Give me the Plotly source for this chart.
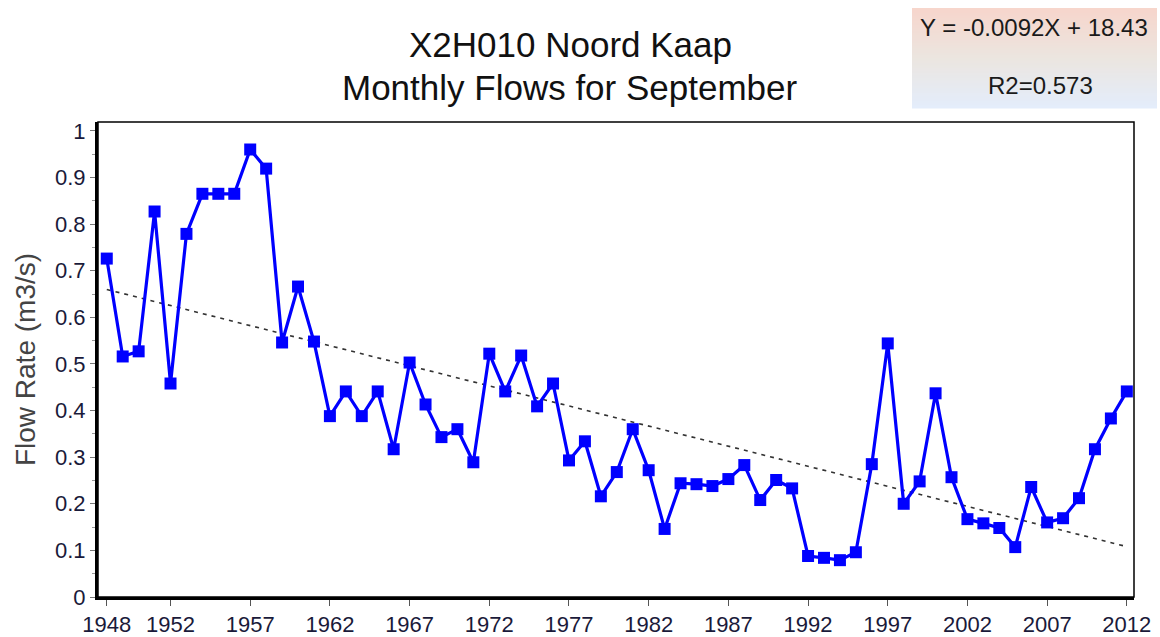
import numpy as np
import plotly.graph_objects as go

years = list(range(1948, 2013))
flows = [0.726, 0.516, 0.527, 0.827, 0.458, 0.779, 0.865, 0.865, 0.865, 0.960,
         0.919, 0.546, 0.666, 0.548, 0.388, 0.441, 0.388, 0.441, 0.317, 0.503,
         0.413, 0.343, 0.360, 0.289, 0.522, 0.441, 0.518, 0.409, 0.458, 0.293,
         0.334, 0.216, 0.268, 0.360, 0.272, 0.146, 0.244, 0.242, 0.238, 0.253,
         0.283, 0.208, 0.251, 0.233, 0.088, 0.084, 0.079, 0.096, 0.285, 0.544,
         0.200, 0.248, 0.437, 0.257, 0.167, 0.158, 0.148, 0.107, 0.236, 0.160,
         0.169, 0.212, 0.317, 0.383, 0.441]
xtick_vals = [1948, 1952, 1957, 1962, 1967, 1972, 1977, 1982, 1987, 1992, 1997, 2002, 2007, 2012]
xtick_text = [str(v) for v in xtick_vals]
ytick_vals = [0, 0.1, 0.2, 0.3, 0.4, 0.5, 0.6, 0.7, 0.8, 0.9, 1]
ytick_text = ["0", "0.1", "0.2", "0.3", "0.4", "0.5", "0.6", "0.7", "0.8", "0.9", "1"]
title_lines = ["X2H010 Noord Kaap", "Monthly Flows for September"]
equation_text = "Y = -0.0092X + 18.43"
r2_text = "R2=0.573"

# linear trend fitted to the data
coef = np.polyfit(years, flows, 1)
trend = list(np.polyval(coef, years))

W, H = 1160, 637
L, R, T, B = 98, 1134, 122, 597
FONT = "Liberation Sans, Arial, sans-serif"


def px(xp):
    return (xp - L) / (R - L)


def py(yp):
    return (B - yp) / (B - T)


fig = go.Figure()
fig.add_trace(go.Scatter(x=years, y=trend, mode="lines",
                         line=dict(color="#333333", width=1.6, dash="4px,5px"),
                         hoverinfo="skip", showlegend=False))
fig.add_trace(go.Scatter(x=years, y=flows, mode="lines+markers",
                         line=dict(color="#0000FF", width=3.2),
                         marker=dict(symbol="square", size=12, color="#0000FF"),
                         showlegend=False))

# gradient box behind the equation text
top_c = np.array([247, 214, 204])
mid_c = np.array([236, 230, 224])
bot_c = np.array([228, 237, 251])
x0b, x1b, y0b, y1b = 912, 1157, 8, 108
n = 40
shapes = []
for i in range(n):
    t = i / (n - 1)
    if t < 0.5:
        c = top_c + (mid_c - top_c) * (t / 0.5)
    else:
        c = mid_c + (bot_c - mid_c) * ((t - 0.5) / 0.5)
    ya = y0b + (y1b - y0b) * i / n
    yb = y0b + (y1b - y0b) * (i + 1) / n + 0.5
    shapes.append(dict(type="rect", xref="paper", yref="paper",
                       x0=px(x0b), x1=px(x1b), y0=py(yb), y1=py(ya),
                       line=dict(width=0),
                       fillcolor="rgb(%d,%d,%d)" % tuple(int(v) for v in c),
                       layer="below"))
# thin frame on top/right
shapes.append(dict(type="rect", xref="paper", yref="paper", x0=0, x1=1, y0=0, y1=1,
                   line=dict(color="black", width=1.5), layer="above"))

annotations = [
    dict(text=title_lines[0], xref="paper", yref="paper", x=px(570), y=py(45),
         showarrow=False, font=dict(family=FONT, size=35, color="#111111"),
         xanchor="center", yanchor="middle"),
    dict(text=title_lines[1], xref="paper", yref="paper", x=px(570), y=py(87),
         showarrow=False, font=dict(family=FONT, size=35, color="#111111"),
         xanchor="center", yanchor="middle"),
    dict(text=equation_text, xref="paper", yref="paper", x=px(1034), y=py(28),
         showarrow=False, font=dict(family=FONT, size=24, color="#1a1a1a"),
         xanchor="center", yanchor="middle"),
    dict(text=r2_text, xref="paper", yref="paper", x=px(1040), y=py(86),
         showarrow=False, font=dict(family=FONT, size=24, color="#1a1a1a"),
         xanchor="center", yanchor="middle"),
]

fig.update_layout(
    width=W, height=H,
    margin=dict(l=L, r=W - R, t=T, b=H - B, pad=0, autoexpand=False),
    paper_bgcolor="white", plot_bgcolor="white",
    font=dict(family=FONT, color="#1a1a3a"),
    shapes=shapes, annotations=annotations,
    showlegend=False,
)
fig.update_xaxes(range=[1947.45, 2012.45], tickmode="array", tickvals=xtick_vals,
                 ticktext=xtick_text, ticks="outside", ticklen=6, tickcolor="#555555",
                 tickfont=dict(size=22, family=FONT, color="#1a1a3a"),
                 showline=True, linecolor="black", linewidth=3, showgrid=False,
                 zeroline=False, automargin=False)
fig.update_yaxes(range=[0, 1.019], tickmode="array", tickvals=ytick_vals,
                 ticktext=ytick_text, ticks="outside", ticklen=5, tickcolor="#777777",
                 tickfont=dict(size=22, family=FONT, color="#1a1a3a"),
                 minor=dict(ticks="outside", ticklen=3, tickcolor="#999999", dtick=0.05,
                            tick0=0, showgrid=False),
                 showline=True, linecolor="black", linewidth=3, showgrid=False,
                 zeroline=False, automargin=False,
                 title=dict(text="Flow Rate (m3/s)", standoff=12,
                            font=dict(size=28, family=FONT, color="#444444")))

fig.write_html("out.html", config={"displayModeBar": False},
               post_script="document.body.style.margin='0';document.body.style.overflow='hidden';")
